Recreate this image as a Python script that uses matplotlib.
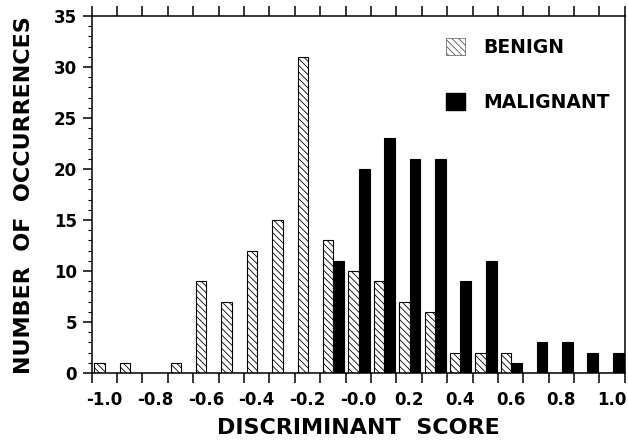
import matplotlib
matplotlib.use("Agg")
import matplotlib.pyplot as plt
from matplotlib.patches import Patch
from matplotlib.ticker import MultipleLocator, FixedLocator
import numpy as np

# histogram of discriminant scores (bin centres)
scores = [-1.0, -0.9, -0.8, -0.7, -0.6, -0.5, -0.4, -0.3, -0.2, -0.1, 0.0,
          0.1, 0.2, 0.3, 0.4, 0.5, 0.6, 0.7, 0.8, 0.9, 1.0]
benign = [1, 1, 0, 1, 9, 7, 12, 15, 31, 13, 10, 9, 7, 6, 2, 2, 2, 0, 0, 0, 0]
malignant = [0, 0, 0, 0, 0, 0, 0, 0, 0, 11, 20, 23, 21, 21, 9, 11, 1, 3, 3, 2, 2]
tick_labels = ["-1.0", "-0.8", "-0.6", "-0.4", "-0.2", "-0.0",
               "0.2", "0.4", "0.6", "0.8", "1.0"]

plt.rcParams["font.family"] = "DejaVu Sans"
plt.rcParams["font.weight"] = "bold"
plt.rcParams["hatch.linewidth"] = 0.6

fig = plt.figure(figsize=(6.28, 4.44), dpi=100)
ax = fig.add_axes([0.146, 0.16, 0.849, 0.804])

x = np.array(scores)
ax.bar(x - 0.039, benign, width=0.041, align="edge", color="white",
       edgecolor="black", linewidth=0.8, hatch="\\\\\\\\\\")
ax.bar(x + 0.002, malignant, width=0.043, align="edge", color="black",
       edgecolor="black", linewidth=0.8)

ax.set_xlim(-1.05, 1.05)
ax.set_ylim(0, 35)

# ticks at bin edges, labels under every second bin centre
edges = np.round(np.arange(-1.05, 1.06, 0.1), 2)
ax.xaxis.set_major_locator(FixedLocator(edges))
ax.xaxis.set_minor_locator(FixedLocator(scores[::2]))
ax.set_xticklabels([], minor=False)
ax.set_xticklabels(tick_labels, minor=True)
ax.tick_params(axis="x", which="major", direction="out", length=7.5,
               width=1.1, top=True, bottom=True)
ax.tick_params(axis="x", which="minor", length=0, pad=13, labelsize=12)

ax.yaxis.set_major_locator(MultipleLocator(5))
ax.yaxis.set_minor_locator(MultipleLocator(1))
ax.tick_params(axis="y", which="major", direction="out", length=6.5,
               width=1.1, labelsize=12, pad=4)
ax.tick_params(axis="y", which="minor", direction="out", length=3, width=0.8)

for s in ax.spines.values():
    s.set_linewidth(1.1)

ax.set_xlabel("DISCRIMINANT  SCORE", fontsize=16, fontweight="bold",
              va="center")
ax.xaxis.set_label_coords(0.5, -0.155)
ax.set_ylabel("NUMBER  OF  OCCURRENCES", fontsize=16, fontweight="bold",
              va="center")
ax.yaxis.set_label_coords(-0.127, 0.497)

handles = [Patch(facecolor="white", edgecolor="#555555", linewidth=0.5,
                 hatch="\\\\\\\\\\"),
           Patch(facecolor="black", edgecolor="black")]
ax.legend(handles, ["BENIGN", "MALIGNANT"], loc="upper left",
          bbox_to_anchor=(446 / 628, 1 - 38 / 444),
          bbox_transform=fig.transFigure, frameon=False, fontsize=13.5,
          handlelength=1.0, handleheight=1.0, handletextpad=1.0,
          labelspacing=1.9, borderpad=0, borderaxespad=0)

fig.savefig("out.png", dpi=100)
